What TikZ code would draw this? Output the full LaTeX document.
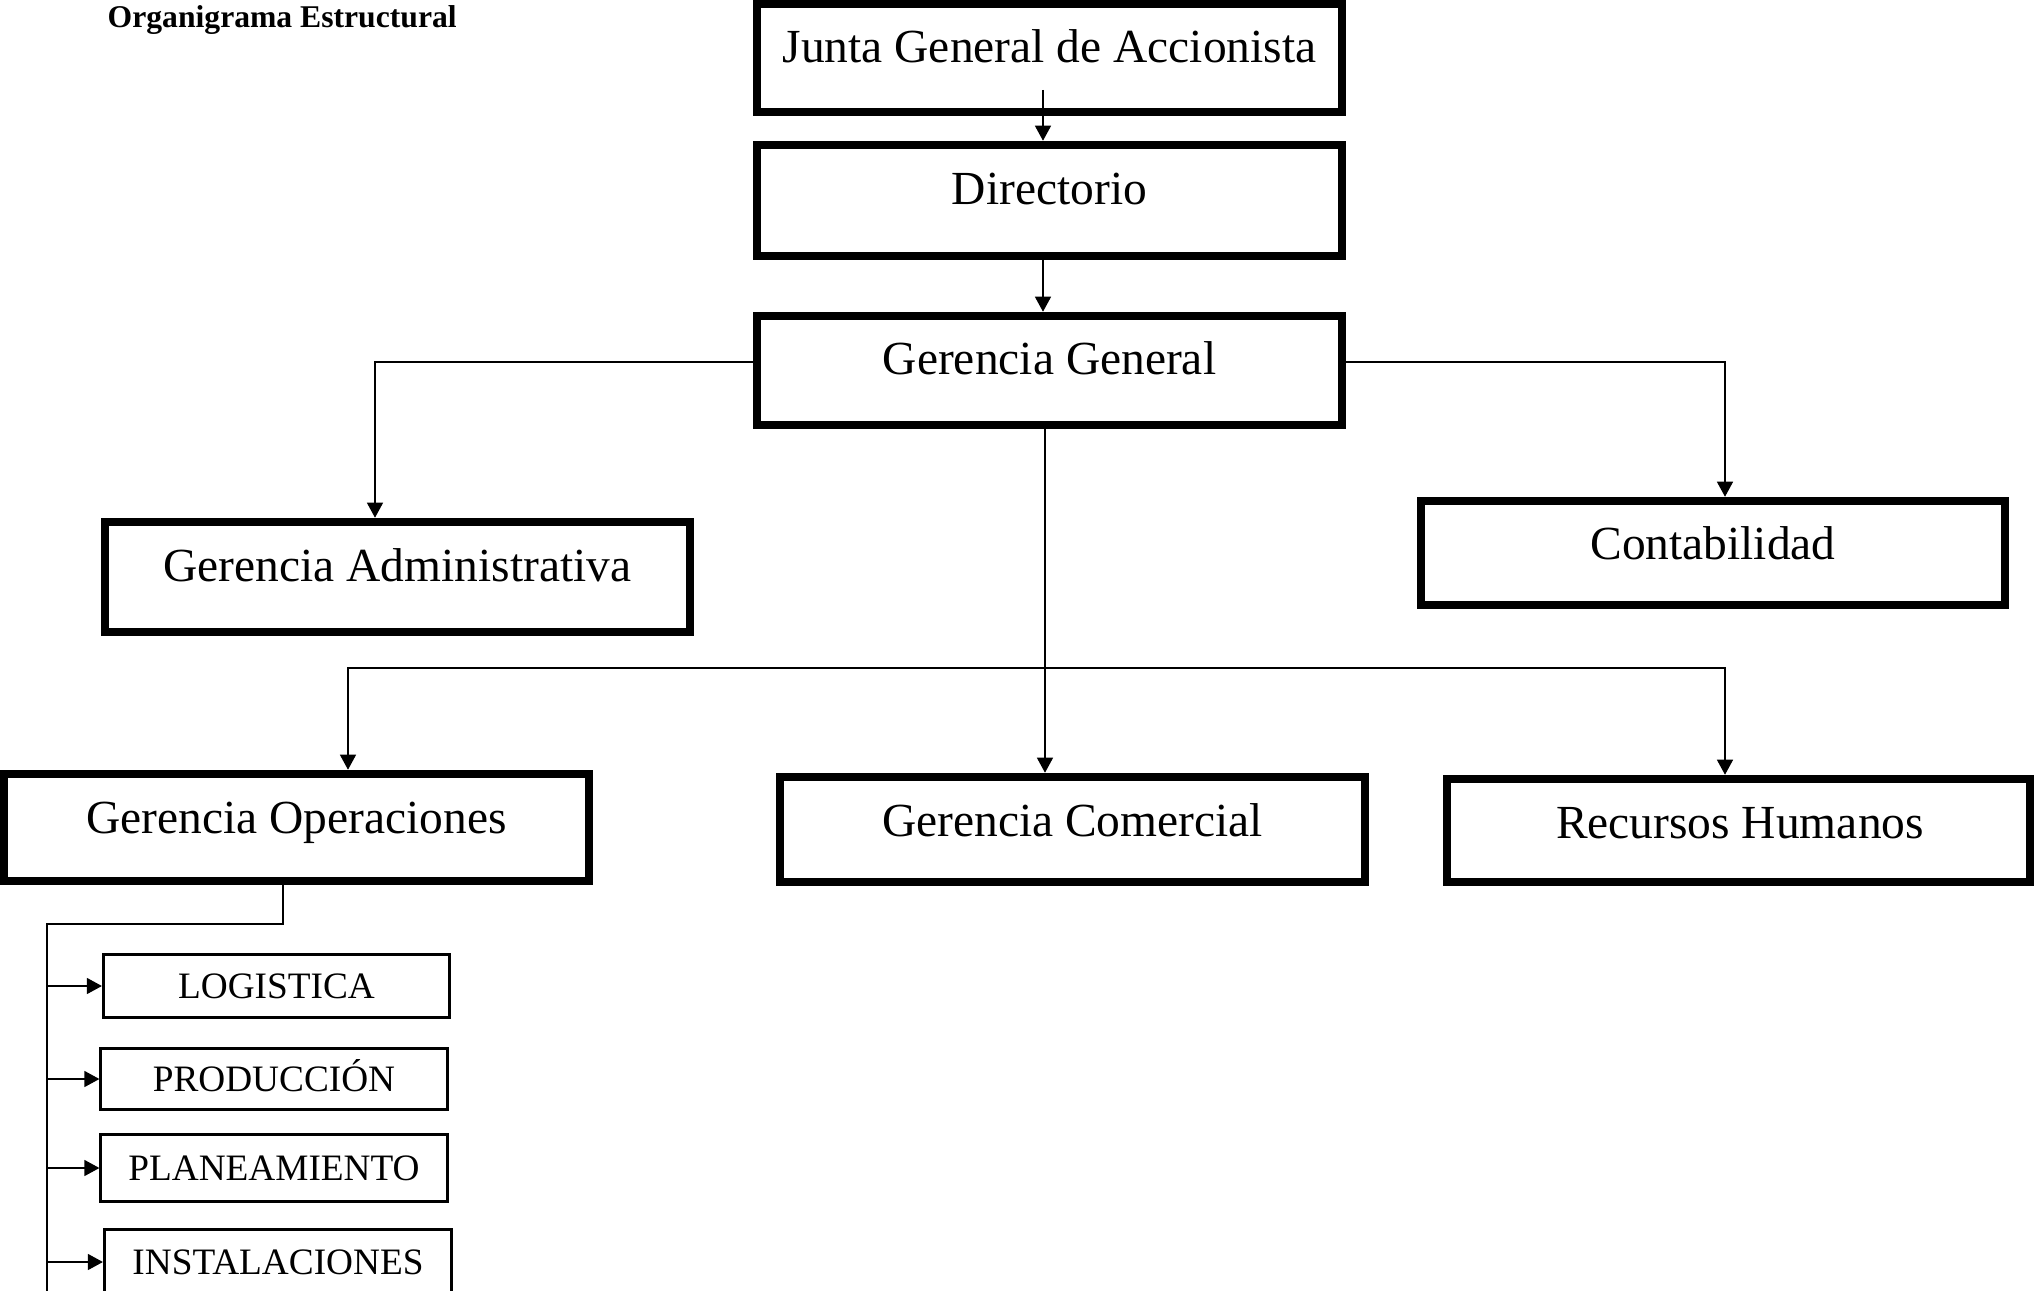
\documentclass[tikz,border=0pt]{standalone}
\usepackage{fontspec}
\setmainfont{Liberation Serif}
\usetikzlibrary{arrows.meta,positioning,calc}

\begin{document}
\begin{tikzpicture}[x=0.01cm,y=-0.01cm,
  ibox/.style={draw,line width=0.085cm,minimum width=5.85cm,minimum height=1.08cm},
  sbox/.style={draw,line width=0.03cm,minimum width=3.46cm,minimum height=0.63cm,
    font=\fontsize{10.6pt}{12pt}\selectfont,text height=0.25cm,text depth=0pt,inner sep=0pt},
  lbl/.style={anchor=base,inner sep=0pt,font=\fontsize{13.5pt}{16pt}\selectfont},
  arr/.style={-{Triangle[length=0.15cm,width=0.16cm]},line width=0.013cm},
  ln/.style={line width=0.013cm}
]
  \useasboundingbox (0,0) rectangle (2035,1291);
  \clip (0,0) rectangle (2035,1291);

  % Title
  \node[anchor=base west,inner sep=0pt,font=\bfseries\fontsize{9pt}{11pt}\selectfont]
    (title) at (107,28) {Organigrama Estructural};

  % Top chain
  \node[ibox] (junta) at (1049.5,58) {};
  \node[lbl] (juntaT) at (1049.5,63) {Junta General de Accionista};
  \node[ibox,minimum height=1.11cm] (dir) at (1049.5,200.5) {};
  \node[lbl] (dirT) at (1049.5,205) {Directorio};
  \node[ibox,minimum height=1.09cm] (gg) at (1049.5,370.5) {};
  \node[lbl] (ggT) at (1049.5,375) {Gerencia General};

  % Second level
  \node[ibox,minimum height=1.10cm] (gadm) at (397.5,577) {};
  \node[lbl] (gadmT) at (397.5,581) {Gerencia Administrativa};
  \node[ibox,minimum width=5.84cm,minimum height=1.04cm] (cont) at (1713,553) {};
  \node[lbl] (contT) at (1713,560) {Contabilidad};

  % Third level
  \node[ibox,minimum height=1.07cm] (gop) at (296.5,827.5) {};
  \node[lbl] (gopT) at (296.5,833) {Gerencia Operaciones};
  \node[ibox,minimum height=1.05cm] (gcom) at (1072.5,829.5) {};
  \node[lbl] (gcomT) at (1072.5,836) {Gerencia Comercial};
  \node[ibox,minimum width=5.83cm,minimum height=1.03cm] (rrhh) at (1738.5,830.5) {};
  \node[lbl] (rrhhT) at (1740,838) {Recursos Humanos};

  % Operaciones units
  \node[sbox] (logi) at (276.5,986) {LOGISTICA};
  \node[sbox,minimum height=0.61cm] (prod) at (274,1079) {PRODUCCIÓN};
  \node[sbox,minimum height=0.67cm] (plan) at (274,1168) {PLANEAMIENTO};
  \node[sbox,minimum width=3.47cm,minimum height=0.64cm] (inst) at (278,1262) {INSTALACIONES};

  % Connectors
  \coordinate (jd) at (1043,90);
  \draw[arr] (jd) -- (jd |- dir.north);
  \draw[arr] (dir.south -| jd) -- (gg.north -| jd);

  \coordinate (adm) at (375,362);
  \coordinate (cnt) at (1725,362);
  \draw[arr] (gg.west |- adm) -- (adm) -- (adm |- gadm.north);
  \draw[arr] (gg.east |- cnt) -- (cnt) -- (cnt |- cont.north);

  \coordinate (bus) at (1045,668);
  \coordinate (opd) at (348,668);
  \coordinate (rhd) at (1725,668);
  \draw[arr] (gg.south -| bus) -- (bus |- gcom.north);
  \draw[arr] (bus) -- (opd) -- (opd |- gop.north);
  \draw[arr] (bus) -- (rhd) -- (rhd |- rrhh.north);

  % Operaciones rail
  \coordinate (drop) at (283,924);
  \coordinate (rail) at (47,924);
  \coordinate (railEnd) at (47,1295);
  \draw[ln] (gop.south -| drop) -- (drop) -- (rail) -- (railEnd);
  \draw[arr] (rail |- logi.west) -- (logi.west);
  \draw[arr] (rail |- prod.west) -- (prod.west);
  \draw[arr] (rail |- plan.west) -- (plan.west);
  \draw[arr] (rail |- inst.west) -- (inst.west);
\end{tikzpicture}
\end{document}
